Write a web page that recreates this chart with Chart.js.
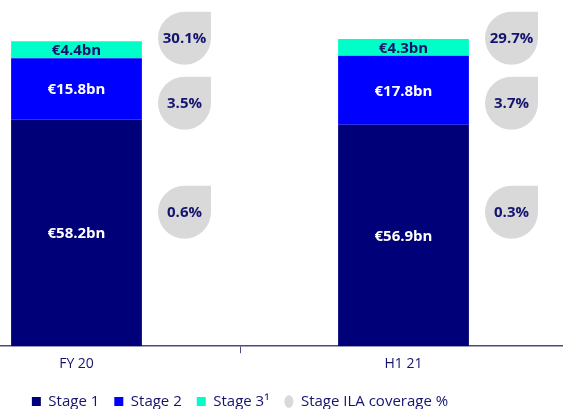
<!DOCTYPE html>
<html>
<head>
<meta charset="utf-8">
<script src="https://cdn.jsdelivr.net/npm/chart.js@4.4.1/dist/chart.umd.min.js"></script>
<style>
  html, body { margin: 0; padding: 0; background: #fff; overflow: hidden; }
  #wrap { position: absolute; left: -87px; top: 0; width: 654px; height: 419px; }
</style>
</head>
<body>
<div id="wrap"><canvas id="myChart"></canvas></div>
<script>
const categories = ['FY 20', 'H1 21'];
const stage1 = [58.2, 56.9];
const stage2 = [15.8, 17.8];
const stage3 = [4.4, 4.3];
// ILA coverage %, per stage
const coverage1 = [0.6, 0.3];
const coverage2 = [3.5, 3.7];
const coverage3 = [30.1, 29.7];

const navy = '#14146e';

function drawDrop(ctx, cx, cy, r, text) {
    ctx.save();
    ctx.beginPath();
    ctx.moveTo(cx, cy - r);
    ctx.lineTo(cx + r, cy - r);
    ctx.lineTo(cx + r, cy);
    ctx.arc(cx, cy, r, 0, Math.PI * 1.5);
    ctx.closePath();
    ctx.fillStyle = '#d9d9d9';
    ctx.fill();
    ctx.fillStyle = navy;
    ctx.font = 'bold 15px "Open Sans"';
    ctx.textAlign = 'center';
    ctx.textBaseline = 'middle';
    ctx.fillText(text, cx, cy + 1);
    ctx.restore();
}

const labelsPlugin = {
    id: 'labelsPlugin',
    afterDatasetsDraw(chart) {
        const ctx = chart.ctx;
        ctx.save();
        ctx.font = 'bold 15px "Open Sans"';
        ctx.textAlign = 'center';
        ctx.textBaseline = 'middle';
        chart.data.datasets.forEach(function (ds, d) {
            const meta = chart.getDatasetMeta(d);
            meta.data.forEach(function (bar, i) {
                const mid = (bar.y + bar.base) / 2;
                ctx.fillStyle = d === 2 ? navy : '#ffffff';
                ctx.fillText('€' + ds.data[i].toFixed(1) + 'bn', bar.x, mid + 1);
            });
        });
        ctx.restore();

        // coverage drops to the right of each bar
        const bottom = chart.scales.x.top;
        const covs = [coverage3, coverage2, coverage1];
        const rows = [bottom - 308, bottom - 243, bottom - 134];
        const meta0 = chart.getDatasetMeta(0);
        meta0.data.forEach(function (bar, i) {
            const cx = bar.x + 108;
            covs.forEach(function (c, k) {
                drawDrop(ctx, cx, rows[k], 26.5, c[i].toFixed(1) + '%');
            });
        });
    }
};

const ctx = document.getElementById('myChart').getContext('2d');
const myChart = new Chart(ctx, {
    type: 'bar',
    data: {
        labels: categories,
        datasets: [
            {
                label: 'Stage 1',
                data: stage1,
                backgroundColor: '#000078',
                barPercentage: 0.4,
                categoryPercentage: 1
            },
            {
                label: 'Stage 2',
                data: stage2,
                backgroundColor: '#0000ff',
                barPercentage: 0.4,
                categoryPercentage: 1
            },
            {
                label: 'Stage 3¹',
                data: stage3,
                backgroundColor: '#00ffc8',
                barPercentage: 0.4,
                categoryPercentage: 1
            }
        ]
    },
    options: {
        responsive: true,
        maintainAspectRatio: false,
        animation: false,
        layout: { padding: { top: 0, left: 0, right: 0, bottom: 0 } },
        plugins: {
            tooltip: { enabled: false },
            legend: {
                position: 'bottom',
                labels: {
                    color: navy,
                    font: { family: 'Open Sans', size: 15 },
                    boxWidth: 9,
                    boxHeight: 9,
                    pointStyleWidth: 9,
                    padding: 15,
                    usePointStyle: true,
                    generateLabels: function (chart) {
                        const items = chart.data.datasets.map(function (ds, i) {
                            return {
                                text: ds.label,
                                fillStyle: ds.backgroundColor,
                                strokeStyle: ds.backgroundColor,
                                lineWidth: 0,
                                fontColor: navy,
                                pointStyle: 'rect',
                                datasetIndex: i
                            };
                        });
                        items.push({
                            text: 'Stage ILA coverage %',
                            fillStyle: '#d9d9d9',
                            strokeStyle: '#d9d9d9',
                            lineWidth: 0,
                            fontColor: navy,
                            pointStyle: 'circle'
                        });
                        return items;
                    }
                }
            }
        },
        scales: {
            x: {
                stacked: true,
                offset: true,
                border: { display: true, color: '#4a4a80', width: 1.5 },
                grid: { display: true, drawOnChartArea: false, offset: true, tickLength: 7, color: '#4a4a80' },
                ticks: { color: navy, font: { family: 'Open Sans', size: 14 }, padding: 2 },
                afterFit: function (scale) { scale.height += 5; }
            },
            y: {
                stacked: true,
                display: false,
                min: 0,
                max: 89
            }
        }
    },
    plugins: [labelsPlugin]
});
</script>
</body>
</html>
